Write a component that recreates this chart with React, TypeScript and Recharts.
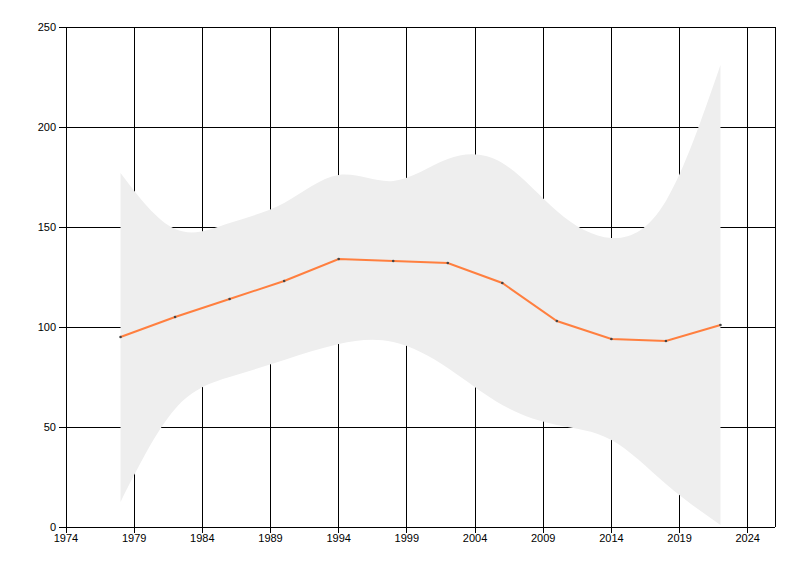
import { Area, ComposedChart, Line, XAxis, YAxis, CartesianGrid } from "recharts"

const years = [1978, 1982, 1986, 1990, 1994, 1998, 2002, 2006, 2010, 2014, 2018, 2022]
const values = [95, 105, 114, 123, 134, 133, 132, 122, 103, 94, 93, 101]
const upper = [177, 149, 152, 162, 176, 173, 184, 182, 158, 144.5, 163, 231]
const lower = [12.5, 59, 75, 83.5, 91.5, 92.5, 79.5, 61, 51, 43.5, 21.5, 1]

const xTicks = [1974, 1979, 1984, 1989, 1994, 1999, 2004, 2009, 2014, 2019, 2024]
const yTicks = [0, 50, 100, 150, 200, 250]

const data = years.map((year, i) => ({
  year,
  value: values[i],
  band: [lower[i], upper[i]],
}))

const tickStyle = { fill: "#000", fontSize: 11, fontFamily: "Liberation Sans, Arial, sans-serif" }

export default function App() {
  return (
    <div style={{ position: "absolute", left: 0, top: 0, width: 800, height: 576, background: "#fff" }}>
      <ComposedChart width={800} height={576} data={data} margin={{ top: 27, right: 25, bottom: 19, left: 0 }}>
        <CartesianGrid stroke="#000" strokeWidth={1} shapeRendering="crispEdges" />
        <XAxis
          dataKey="year"
          type="number"
          domain={[1974, 2026]}
          ticks={xTicks}
          allowDataOverflow
          height={30}
          tickSize={6}
          tickMargin={1}
          stroke="#000"
          tick={tickStyle}
          shapeRendering="crispEdges"
        />
        <YAxis
          domain={[0, 250]}
          ticks={yTicks}
          width={66}
          tickSize={7}
          tickMargin={3}
          stroke="#000"
          tick={tickStyle}
          shapeRendering="crispEdges"
        />
        <Area
          dataKey="band"
          type="natural"
          fill="#eeeeee"
          fillOpacity={1}
          stroke="none"
          isAnimationActive={false}
        />
        <Line
          dataKey="value"
          type="linear"
          stroke="#ff7f3f"
          strokeWidth={2}
          dot={{ r: 1.3, fill: "#444", stroke: "none" }}
          activeDot={false}
          isAnimationActive={false}
        />
      </ComposedChart>
    </div>
  )
}
